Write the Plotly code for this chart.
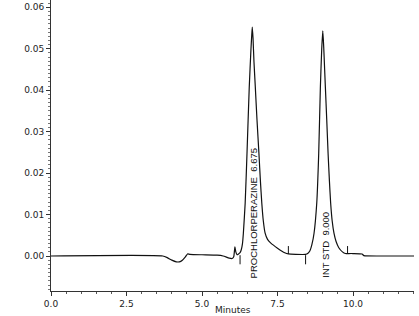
import plotly.graph_objects as go

# Chromatogram trace (minutes, AU)
time_min = [0.0, 3.70, 3.85, 4.00, 4.15, 4.25, 4.35, 4.45, 4.52, 4.60, 5.00, 5.50, 5.70,
            5.90, 6.00, 6.05, 6.09, 6.12, 6.16, 6.21, 6.26,
            6.30, 6.34, 6.37, 6.43, 6.49, 6.565, 6.62, 6.645, 6.665,
            6.69, 6.72, 6.765, 6.82, 6.885, 6.935, 6.98, 7.03, 7.09, 7.17, 7.28, 7.50, 7.74, 7.86,
            8.10, 8.43, 8.50, 8.57, 8.64, 8.71, 8.80, 8.865, 8.92, 8.965, 9.00,
            9.03, 9.06, 9.085, 9.13, 9.175, 9.22, 9.26, 9.31, 9.37, 9.44, 9.53, 9.65, 9.75, 9.82,
            10.00, 10.30, 10.36, 11.00, 12.02]
signal_au = [0.0, 0.0, -0.0004, -0.0010, -0.0014, -0.0014, -0.0010, -0.0002, 0.0005, 0.0004, 0.0003, 0.0002, 0.0000,
             -0.0005, -0.0006, -0.0002, 0.0022, 0.0010, 0.0003, 0.0005, 0.0008,
             0.0015, 0.0030, 0.0055, 0.0128, 0.0248, 0.0408, 0.0497, 0.0530, 0.0552,
             0.0525, 0.0470, 0.0408, 0.0330, 0.0248, 0.0180, 0.0128, 0.0085, 0.0055, 0.0040, 0.0031, 0.0019, 0.0008, 0.0005,
             0.0004, 0.0004, 0.0006, 0.0012, 0.0028, 0.0055, 0.0128, 0.0248, 0.0408, 0.0500, 0.0543,
             0.0505, 0.0452, 0.0408, 0.0330, 0.0248, 0.0180, 0.0128, 0.0085, 0.0055, 0.0035, 0.0020, 0.0010, 0.0006, 0.0006,
             0.0006, 0.0005, 0.0001, 0.0, 0.0]

# Integration event markers
mark_t = [6.26, 7.86, 8.43, 9.82]
mark_y0 = [0.0002, 0.0005, 0.0002, 0.0005]
mark_y1 = [-0.0020, 0.0024, -0.0020, 0.0024]

# Peak labels
peak_labels = ["PROCHLORPERAZINE\u00a0 6.675", "INT STD\u00a0 9.000"]
label_t = [6.70, 9.06]
label_y = [-0.0058, -0.0058]
x_title = "Minutes"

fig = go.Figure()
fig.add_trace(go.Scatter(x=time_min, y=signal_au, mode="lines",
                         line=dict(color="#111111", width=1.2, shape="spline", smoothing=0.5),
                         showlegend=False, hoverinfo="skip"))

mx, my = [], []
for t, a, b in zip(mark_t, mark_y0, mark_y1):
    mx += [t, t, None]
    my += [a, b, None]
fig.add_trace(go.Scatter(x=mx, y=my, mode="lines",
                         line=dict(color="#111111", width=1), showlegend=False,
                         hoverinfo="skip"))

for txt, t, y in zip(peak_labels, label_t, label_y):
    fig.add_annotation(x=t, y=y, text=txt, textangle=-90, showarrow=False,
                       xanchor="center", yanchor="bottom",
                       font=dict(family="Liberation Sans, Arial", size=9.5, color="#111111"))

fig.add_annotation(x=0.5, y=-0.0859, xref="paper", yref="paper", text=x_title,
                   showarrow=False, xanchor="center", yanchor="bottom", borderpad=0,
                   font=dict(family="DejaVu Sans", size=9, color="#222222"))

axis_font = dict(family="DejaVu Sans", size=9, color="#222222")
fig.update_layout(
    width=419, height=316,
    margin=dict(l=51, r=5, t=0, b=25),
    paper_bgcolor="white", plot_bgcolor="white",
    xaxis=dict(range=[0, 12.02], showline=True, linecolor="#333333", linewidth=1,
               ticks="outside", ticklen=4, tickcolor="#333333", dtick=2.5, tick0=0,
               tickformat=".1f", tickfont=axis_font, showgrid=False, zeroline=False,
               automargin=False,
               minor=dict(dtick=0.5, ticks="outside", ticklen=2, tickcolor="#555555")),
    yaxis=dict(range=[-0.00844, 0.06176], showline=True, linecolor="#333333", linewidth=1,
               ticks="outside", ticklen=4, tickcolor="#333333", dtick=0.01, tick0=0,
               tickformat=".2f", tickfont=axis_font, showgrid=False, zeroline=False,
               automargin=False,
               minor=dict(dtick=0.001, ticks="outside", ticklen=2, tickcolor="#777777")),
)

fig.write_html("out.html")
